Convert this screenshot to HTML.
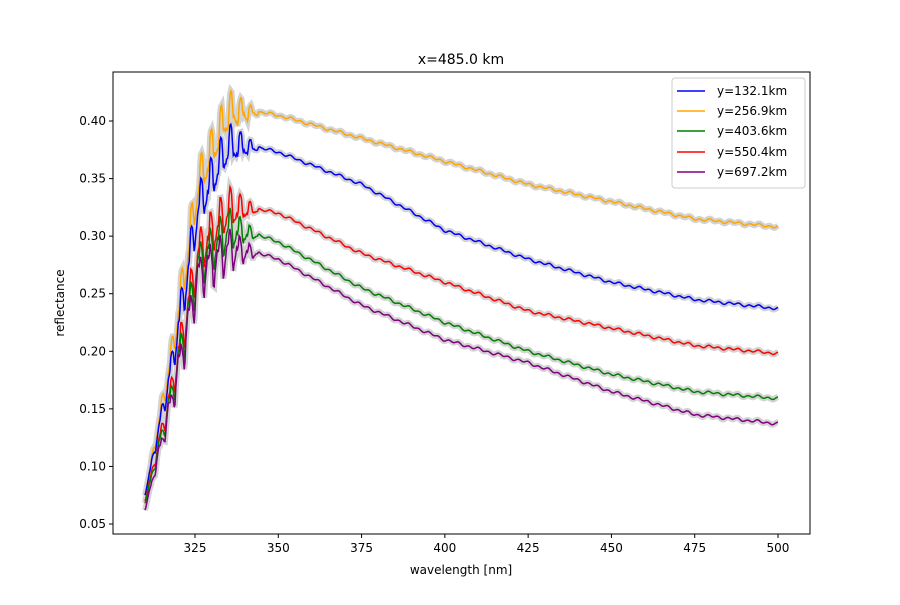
<!DOCTYPE html>
<html><head><meta charset="utf-8"><style>
body{margin:0;background:#fff;}
svg text{font-family:"DejaVu Sans","Liberation Sans",sans-serif;fill:#000;}
</style></head><body>
<svg id="s" width="900" height="600" xmlns="http://www.w3.org/2000/svg">
<rect width="900" height="600" fill="#fff"/>
<g id="bands"></g>
<g id="lines"></g>
<rect x="113" y="72" width="697" height="462" fill="none" stroke="#000" stroke-width="1"/>
<g id="ticks" font-size="12"></g>
<text x="461" y="64" font-size="14" text-anchor="middle">x=485.0 km</text>
<text x="461" y="574" font-size="12" text-anchor="middle">wavelength [nm]</text>
<text transform="translate(64,303) rotate(-90)" font-size="12" text-anchor="middle">reflectance</text>
<g font-size="12">
<rect x="672" y="78" width="133" height="110" fill="#fff" stroke="#ccc" rx="3"/>
<line x1="677" y1="91" x2="705" y2="91" stroke="blue" stroke-width="1.5"/><text x="717" y="95">y=132.1km</text>
<line x1="677" y1="111" x2="705" y2="111" stroke="orange" stroke-width="1.5"/><text x="717" y="115">y=256.9km</text>
<line x1="677" y1="131" x2="705" y2="131" stroke="green" stroke-width="1.5"/><text x="717" y="135">y=403.6km</text>
<line x1="677" y1="152" x2="705" y2="152" stroke="red" stroke-width="1.5"/><text x="717" y="156">y=550.4km</text>
<line x1="677" y1="172" x2="705" y2="172" stroke="purple" stroke-width="1.5"/><text x="717" y="176">y=697.2km</text>
</g>
</svg>
<script>
var X=function(l){return 195+(l-325)*3.3314;};
var Y=function(v){return 524-(v-0.05)/0.05*57.57;};
var t=document.getElementById('ticks'),h='';
[325,350,375,400,425,450,475,500].forEach(function(l){var x=X(l);h+='<line x1="'+x+'" y1="534" x2="'+x+'" y2="538" stroke="#000"/><text x="'+x+'" y="552" text-anchor="middle">'+l+'</text>';});
for(var i=1;i<=8;i++){var v=i*0.05,y=Y(v);h+='<line x1="109" y1="'+y+'" x2="113" y2="'+y+'" stroke="#000"/><text x="106" y="'+(y+4)+'" text-anchor="end">'+v.toFixed(2)+'</text>';}
t.innerHTML=h;
var S=[
['orange',[[310,0.075],[318,0.2],[326,0.35],[335,0.412],[350,0.405],[375,0.385],[400,0.365],[425,0.345],[450,0.33],[475,0.315],[500,0.308]]],
['blue',[[310,0.075],[318,0.19],[326,0.33],[335,0.383],[350,0.373],[375,0.345],[400,0.305],[425,0.28],[450,0.26],[475,0.245],[500,0.237]]],
['red',[[310,0.07],[318,0.17],[326,0.29],[335,0.328],[350,0.32],[375,0.285],[400,0.26],[425,0.235],[450,0.22],[475,0.205],[500,0.198]]],
['green',[[310,0.068],[318,0.165],[326,0.28],[335,0.31],[350,0.295],[375,0.255],[400,0.225],[425,0.2],[450,0.18],[475,0.165],[500,0.159]]],
['purple',[[310,0.062],[318,0.16],[326,0.27],[335,0.293],[350,0.28],[375,0.24],[400,0.21],[425,0.19],[450,0.165],[475,0.145],[500,0.137]]]];
function interp(a,l){for(var i=0;i<a.length-1;i++){if(l<=a[i+1][0]){var f=(l-a[i][0])/(a[i+1][0]-a[i][0]);return a[i][1]+f*(a[i+1][1]-a[i][1]);}}return a[a.length-1][1];}
var bh='',lh='';
S.forEach(function(s,k){var d='';for(var l=310;l<=500;l+=0.25){var v=interp(s[1],l);
var amp=l<345?0.016*(l<322?(l-310)/12:1)*(l>335?(345-l)/10:1):0.0009;
v+=amp*Math.sin(l*2.1+k*0.3)-(l<345?amp*0.8*Math.max(0,Math.sin(l*4.3)):0.0006*Math.sin(l*0.9));
d+=(d?'L':'M')+X(l).toFixed(1)+','+Y(v).toFixed(1);}
bh+='<path d="'+d+'" fill="none" stroke="#d3d3d3" stroke-width="6"/>';
lh+='<path d="'+d+'" fill="none" stroke="'+s[0]+'" stroke-width="1.5"/>';});
document.getElementById('bands').innerHTML=bh;document.getElementById('lines').innerHTML=lh;
</script>
</body></html>
